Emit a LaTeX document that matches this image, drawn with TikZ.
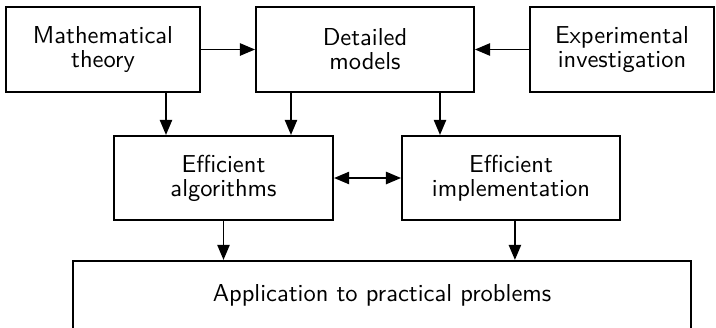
\documentclass[tikz,border=0pt]{standalone}
\usetikzlibrary{arrows.meta}

\tikzset{
  block/.style={draw, line width=0.8pt, align=center,
    font={\sffamily\fontsize{10pt}{9.8pt}\selectfont}, inner sep=0pt},
  arr/.style={line width=0.8pt, -{Triangle[length=6.2pt,width=5pt]}},
  twoarr/.style={line width=0.8pt, {Triangle[length=6.2pt,width=5pt]}-{Triangle[length=6.2pt,width=5pt]}}
}

\begin{document}
\begin{tikzpicture}[x=0.408pt, y=-0.408pt]
  \useasboundingbox (0,0) rectangle (716,327);

  % top row
  \node[block, minimum width=79.2pt, minimum height=34.7pt] (theory) at (103,49.5) {Mathematical\\theory};
  \node[block, minimum width=88.9pt, minimum height=34.7pt] (models) at (365,49.5) {Detailed\\models};
  \node[block, minimum width=75.1pt, minimum height=34.7pt] (exper) at (622,49.5) {Experimental\\investigation};

  % middle row
  \node[block, minimum width=89.4pt, minimum height=34.3pt] (algo) at (223.5,178) {Efficient\\algorithms};
  \node[block, minimum width=88.9pt, minimum height=34.3pt] (impl) at (511,178) {Efficient\\implementation};

  % bottom
  \node[block, minimum width=252.1pt, minimum height=27.8pt] (appl) at (382,295) {Application to practical problems};

  \draw[arr] (theory) -- (models);
  \draw[arr] (exper) -- (models);

  \draw[arr] ([xshift=25.7pt]theory.south) coordinate (t1) -- (t1 |- algo.north);
  \draw[arr] ([xshift=-30.2pt]models.south) coordinate (m1) -- (m1 |- algo.north);
  \draw[arr] ([xshift=30.6pt]models.south) coordinate (m2) -- (m2 |- impl.north);

  \draw[twoarr] (algo) -- (impl);

  \draw[arr] (algo) -- (algo |- appl.north);
  \draw[arr] ([xshift=1.6pt]impl.south) coordinate (i1) -- (i1 |- appl.north);
\end{tikzpicture}
\end{document}
